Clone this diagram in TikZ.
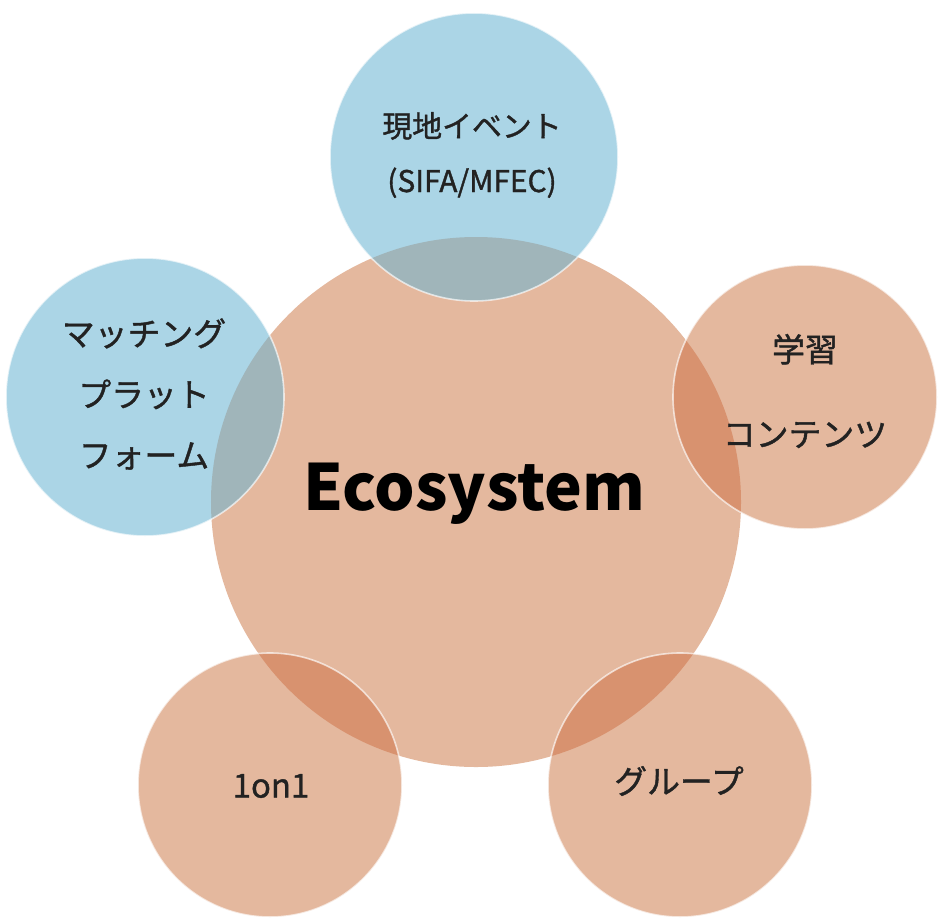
\documentclass[tikz,border=0pt]{standalone}
\usepackage{fontspec}
\newfontfamily\jp{Noto Sans CJK JP}
\newfontfamily\jpm[FakeBold=1.2]{Noto Sans CJK JP}
\definecolor{orng}{HTML}{E4B89E}
\definecolor{orngdk}{HTML}{D8926F}
\definecolor{blu}{HTML}{ABD5E6}
\definecolor{bluov}{HTML}{A0B5BA}
\definecolor{ink}{HTML}{222222}
\newcommand{\satcircle}[6]{%
  \node[circle, fill=#5, minimum size={2*#4 bp}, inner sep=0pt] (#1) at (#2,#3) {};
  \begin{scope}
    \clip (eco.center) circle (265bp);
    \fill[#6] (#1.center) circle (#4bp);
  \end{scope}
  \draw[rimline] (#1.center) circle (#4bp);
}
\begin{document}
\begin{tikzpicture}[x=1bp,y=-1bp,
  txt/.style={font=\jpm\fontsize{33}{61}\selectfont, text=ink, align=center},
  rimline/.style={white, opacity=0.65, line width=1.6bp}]
\useasboundingbox (0,0) rectangle (944,922);
\fill[white] (0,0) rectangle (944,922);
\node[circle, fill=orng, minimum size=530bp, inner sep=0pt] (eco) at (476,502) {};
\satcircle{top}{474}{157}{144}{blu}{bluov}
\satcircle{left}{145}{397}{139}{blu}{bluov}
\satcircle{right}{805}{397}{132}{orng}{orngdk}
\satcircle{bl}{270}{785}{132}{orng}{orngdk}
\satcircle{br}{680}{785}{132}{orng}{orngdk}
\node[txt, font=\jpm\fontsize{30}{55}\selectfont] (toptxt) at (472,155) {現地イベント\\(SIFA/MFEC)};
\node[txt] (lefttxt) at (144,394) {マッチング\\プラット\\フォーム};
\node[txt, font=\jpm\fontsize{33}{85}\selectfont] (righttxt) at (805,391) {学習\\コンテンツ};
\node[txt] (bltxt) at (271,786) {1on1};
\node[txt] (brtxt) at (679,781) {グループ};
\node[font=\jp\bfseries\fontsize{64}{70}\selectfont, text=black] (ecotxt) at (474,494) {Ecosystem};
\end{tikzpicture}
\end{document}
